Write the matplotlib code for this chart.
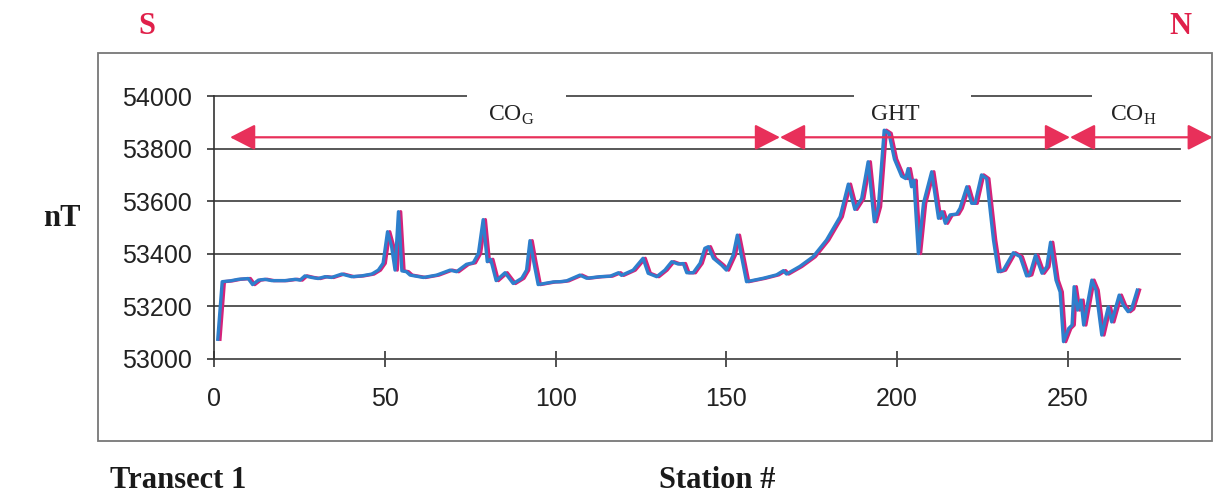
import matplotlib
matplotlib.use("Agg")
import matplotlib.pyplot as plt
import matplotlib.transforms as mtransforms
from matplotlib.patches import FancyArrowPatch, Rectangle

plt.rcParams['font.family'] = ['Liberation Sans', 'DejaVu Sans']
plt.rcParams['mathtext.fontset'] = 'custom'
plt.rcParams['mathtext.rm'] = 'Liberation Serif'

# ---- data ----
station = [1.1, 2.4, 4.7, 7.1, 10, 11.3, 13, 14.9, 16.9, 20.8, 23.7, 25.2, 26.6, 28.6,
           30.5, 32.5, 34.4, 37.4, 40.3, 43.2, 46.2, 48.1, 49.5, 50.8, 52, 53, 54, 55,
           56.3, 57.4, 61.3, 65.2, 69.1, 71, 73.9, 75.9, 77.4, 78.8, 80, 81, 82.6, 85.2,
           87.6, 90.1, 91.5, 92.5, 93.6, 94.9, 99.3, 101.3, 103.2, 107.1, 109.1, 113,
           116, 118.4, 119.3, 122.7, 125.6, 127.1, 129.6, 132, 134, 135.9, 137.4, 138.4,
           140.3, 142.3, 143.7, 144.7, 146.2, 148.6, 150, 152, 153.2, 155.9, 160.8,
           164.7, 166.7, 167.6, 171.5, 175.4, 179.3, 183.3, 185.7, 187.6, 189.6, 191.5,
           193.3, 194.5, 196.2, 197.6, 199.2, 201.3, 202.5, 203.2, 204.2, 204.9, 206.2,
           207.7, 210.1, 212.1, 213.1, 214.1, 215.5, 217.4, 218.4, 220.4, 221.8, 222.8,
           224.7, 226.2, 228.2, 229.6, 231.1, 234, 236, 237.9, 238.8, 240.5, 242.4,
           243.8, 244.9, 246.5, 247.7, 248.7, 250.2, 251.2, 251.8, 252.8, 253.8, 254.6,
           257, 258.2, 259.9, 261.8, 262.8, 265, 266.2, 267.6, 268.6, 270.3]
field_nT = [53075, 53294, 53297, 53303, 53306, 53283, 53300, 53303, 53298, 53298, 53303,
            53300, 53316, 53310, 53306, 53313, 53310, 53323, 53313, 53316, 53323, 53338,
            53364, 53484, 53427, 53338, 53560, 53335, 53332, 53319, 53310, 53319, 53338,
            53332, 53360, 53366, 53401, 53530, 53370, 53379, 53298, 53328, 53287, 53307,
            53338, 53450, 53370, 53283, 53293, 53294, 53297, 53319, 53307, 53313, 53315,
            53328, 53318, 53338, 53383, 53326, 53313, 53338, 53370, 53361, 53363, 53328,
            53328, 53364, 53421, 53427, 53383, 53357, 53338, 53395, 53471, 53294, 53307,
            53320, 53336, 53323, 53352, 53389, 53452, 53541, 53665, 53569, 53610, 53750,
            53522, 53579, 53870, 53858, 53760, 53695, 53686, 53724, 53655, 53680, 53401,
            53592, 53712, 53535, 53560, 53516, 53548, 53551, 53573, 53655, 53592, 53592,
            53700, 53686, 53452, 53332, 53338, 53404, 53389, 53316, 53320, 53395, 53326,
            53351, 53444, 53300, 53255, 53066, 53116, 53129, 53275, 53186, 53224, 53129,
            53300, 53262, 53091, 53198, 53141, 53243, 53205, 53180, 53190, 53262]

zone_names = [r'CO$_{\rm G}$', 'GHT', r'CO$_{\rm H}$']
zone_bounds = [4.7, 165.7, 250.6, 292.4]
zone_label_x = [87, 199.6, 269]
arrow_level = 53843
label_level = 53928
x_ticks = [0, 50, 100, 150, 200, 250]
y_ticks = [53000, 53200, 53400, 53600, 53800, 54000]

# ---- figure ----
W, H, DPI = 1217, 496, 100
fig = plt.figure(figsize=(W / DPI, H / DPI), dpi=DPI)
ax = fig.add_axes([214 / W, 1 - 359 / H, (1180 - 214) / W, (359 - 96) / H])

ax.set_xlim(0, 282.8)
ax.set_ylim(53000, 54000)
ax.set_xticks(x_ticks)
ax.set_yticks(y_ticks)
ax.yaxis.grid(True, color='#4a4a4a', linewidth=1.3, zorder=0, clip_on=False)
for gl in ax.yaxis.get_gridlines():
    gl.set_clip_on(False)
ax.set_axisbelow(True)
for s in ['top', 'right', 'bottom']:
    ax.spines[s].set_visible(False)
ax.spines['left'].set_color('#333333')
ax.spines['left'].set_linewidth(1.2)
ax.tick_params(axis='y', direction='out', length=5, width=1.2, color='#333333',
               labelsize=18, pad=11, labelcolor='#222222')
ax.tick_params(axis='x', direction='inout', length=11, width=1.2, color='#333333',
               labelsize=18, pad=15, labelcolor='#222222')

# gaps in top gridline (white patches behind labels)
gap_spans = [(74, 103), (187.5, 221.5), (257, 283)]
for a, b in gap_spans:
    ax.add_patch(Rectangle((a, 53965), b - a, 60, facecolor='white', edgecolor='none',
                           zorder=1, clip_on=False))

# data lines: magenta shadow offset, blue on top
off = mtransforms.offset_copy(ax.transData, fig=fig, x=2.2, y=0, units='dots')
ax.plot(station, field_nT, color='#d4237a', linewidth=2.4, transform=off, zorder=2,
        solid_joinstyle='round', clip_on=False)
ax.plot(station, field_nT, color='#2e7fcc', linewidth=2.4, zorder=3,
        solid_joinstyle='round', clip_on=False)

# zone arrows
for i, name in enumerate(zone_names):
    arr = FancyArrowPatch((zone_bounds[i], arrow_level), (zone_bounds[i + 1], arrow_level),
                          arrowstyle='<|-|>,head_length=0.78,head_width=0.4',
                          mutation_scale=20, shrinkA=0, shrinkB=0,
                          color='#e8305a', linewidth=1.6, zorder=4, clip_on=False)
    ax.add_patch(arr)
    ax.text(zone_label_x[i], label_level, name, ha='center', va='center',
            fontsize=17, family=['Liberation Serif', 'DejaVu Serif'], color='#222222',
            zorder=5)

# outer frame
fig.patches.append(Rectangle((98 / W, 1 - 441 / H), (1212 - 98) / W, (441 - 53) / H,
                             transform=fig.transFigure, fill=False,
                             edgecolor='#777777', linewidth=1.3))

serif = ['Liberation Serif', 'DejaVu Serif']
fig.text(147 / W, 1 - 27 / H, 'S', ha='center', va='center', fontsize=22,
         fontweight='bold', color='#e0204a', family=serif)
fig.text(1180 / W, 1 - 27 / H, 'N', ha='center', va='center', fontsize=22,
         fontweight='bold', color='#e0204a', family=serif)
fig.text(62 / W, 1 - 218 / H, 'nT', ha='center', va='center', fontsize=22,
         fontweight='bold', color='#1a1a1a', family=serif)
fig.text(178 / W, 1 - 481 / H, 'Transect 1', ha='center', va='center', fontsize=22,
         fontweight='bold', color='#1a1a1a', family=serif)
fig.text(717 / W, 1 - 481 / H, 'Station #', ha='center', va='center', fontsize=22,
         fontweight='bold', color='#1a1a1a', family=serif)

fig.savefig('out.png', dpi=DPI)
